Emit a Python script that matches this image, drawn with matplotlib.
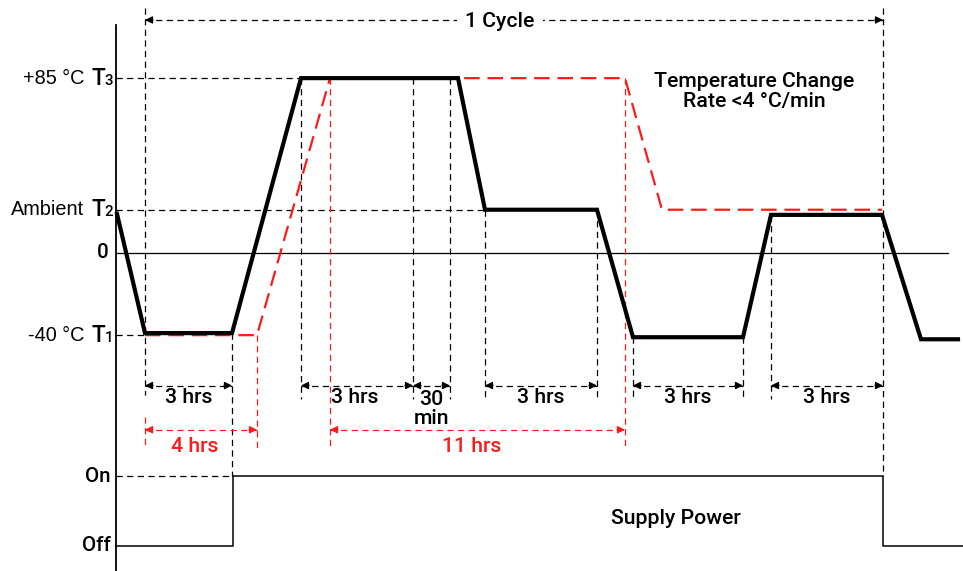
"""
Thermal cycling profile - schematic of one temperature cycle
with the supply power state underneath.
"""

import matplotlib.pyplot as plt

plt.rcParams["font.family"] = ["Liberation Sans", "DejaVu Sans"]

# --- data (schematic time positions, temperatures in degC) ---
T_HOT = 85
T_AMB = 21
T_COLD = -40

profile_t = [117, 145, 232, 301, 458, 485, 597, 633, 743, 771, 882, 921, 958]
profile_temp = [19, -39, -39, 85, 85, 21, 21, -41, -41, 18.5, 18.5, -42, -42]

slow_t = [145, 257, 330, 625, 662, 882]
slow_temp = [-40, -40, 85, 85, 21, 21]

power_t = [116, 233, 233, 883, 883, 963]
power_state = [0, 0, 1, 1, 0, 0]

cycle_start, cycle_end = 145, 883

# dwell annotations: (start, end, label)
dwell_black = [(145, 232, "3 hrs"), (301, 413, "3 hrs"), (413, 450, "30\nmin"),
               (485, 597, "3 hrs"), (633, 743, "3 hrs"), (771, 883, "3 hrs")]
dwell_red = [(145, 257, "4 hrs"), (330, 625, "11 hrs")]

# --- layout constants ---
Y_ON, Y_OFF = -108.5, -142.5
Y_ARROW, Y_ARROW_RED = -64.5, -86
RED = "#ff1a1a"
FS = 15.3
MED = dict(family=["Roboto", "DejaVu Sans"], fontweight="medium")

fig = plt.figure(figsize=(9.63, 5.71), dpi=100)
ax = fig.add_axes([0, 0, 1, 1])
ax.set_xlim(0, 963)
ax.set_ylim(-154.7, 123)
ax.axis("off")

thin_dash = dict(color="black", lw=0.9, linestyle=(0, (5, 3.5)))
red_dash = dict(color=RED, lw=0.9, linestyle=(0, (5, 3.5)))


def arrow_head(x_tip, x_from, y, color):
    ax.annotate("", xy=(x_tip, y), xytext=(x_from, y),
                arrowprops=dict(arrowstyle="-|>", color=color, lw=0.9,
                                mutation_scale=11, shrinkA=0, shrinkB=0))


def dim_arrow(x0, x1, y, color):
    ax.plot([x0, x1], [y, y], color=color, lw=0.9, linestyle=(0, (5, 3.5)))
    arrow_head(x0, x0 + 8, y, color)
    arrow_head(x1, x1 - 8, y, color)


# axis line and zero line
ax.plot([116, 116], [111, -155], color="black", lw=1.3)
ax.plot([116, 948], [0, 0], color="black", lw=0.9)

# horizontal guides
ax.plot([116, 301], [T_HOT, T_HOT], **thin_dash)
ax.plot([116, 485], [T_AMB, T_AMB], **thin_dash)
ax.plot([116, 145], [T_COLD, T_COLD], **thin_dash)
ax.plot([116, 232], [Y_ON, Y_ON], **thin_dash)

# vertical guides (black)
ax.plot([cycle_start, cycle_start], [119, -69], **thin_dash)
ax.plot([cycle_end, cycle_end], [119, Y_ON], **thin_dash)
ax.plot([232, 232], [-39, Y_ON], **thin_dash)
for x, top in [(301, T_HOT), (413, T_HOT), (450, T_HOT), (485, T_AMB),
               (597, T_AMB), (633, -41), (743, -41), (771, 18.5)]:
    ax.plot([x, x], [top, -71], **thin_dash)

# vertical guides (red)
ax.plot([cycle_start, cycle_start], [-80, -94.5], **red_dash)
ax.plot([257, 257], [T_COLD, -96.5], **red_dash)
ax.plot([330, 330], [T_HOT, -94.5], **red_dash)
ax.plot([625, 625], [T_HOT, -94.5], **red_dash)

# temperature profiles
ax.plot(slow_t, slow_temp, color=RED, lw=1.6, linestyle=(0, (7, 3.5)))
ax.plot(profile_t, profile_temp, color="black", lw=3, solid_joinstyle="miter")

# supply power
power_y = [Y_ON if s else Y_OFF for s in power_state]
ax.plot(power_t, power_y, color="black", lw=1.1)

# dwell arrows
for x0, x1, label in dwell_black:
    dim_arrow(x0, x1, Y_ARROW, "black")
    if label.startswith("30"):
        ax.text((x0 + x1) / 2, -76, label, ha="center", va="center",
                fontsize=FS, linespacing=1.0, **MED)
    else:
        xc = 355 if x0 == 301 else (x0 + x1) / 2
        ax.text(xc, -70.5, label, ha="center", va="center", fontsize=FS, **MED)

for x0, x1, label in dwell_red:
    dim_arrow(x0, x1, Y_ARROW_RED, RED)
    xc = 195 if x0 == 145 else 472
    ax.text(xc, -94, label, ha="center", va="center", fontsize=FS,
            color=RED, **MED)

# one-cycle arrow
dim_arrow(cycle_start, cycle_end, 113.3, "black")
ax.text(500, 112.5, "1 Cycle", ha="center", va="center", fontsize=FS,
        bbox=dict(fc="white", ec="none", pad=6), **MED)

# y labels
ylabels = [(T_HOT, "+85 °C", "3"), (T_AMB, "Ambient", "2"), (T_COLD, "-40 °C", "1")]
for y, lab, sub in ylabels:
    ax.text(84, y, lab, ha="right", va="center", fontsize=FS - 1)
    ax.text(105, y, "T", ha="right", va="center", fontsize=FS + 1, **MED)
    ax.text(104.5, y - 1.2, sub, ha="left", va="center", fontsize=FS - 4.5, **MED)
ax.text(109, 0, "0", ha="right", va="center", fontsize=FS - 0.5, **MED)
ax.text(111, Y_ON, "On", ha="right", va="center", fontsize=FS - 0.5, **MED)
ax.text(111, Y_OFF, "Off", ha="right", va="center", fontsize=FS - 0.5, **MED)

ax.text(754, 78.5, "Temperature Change\nRate <4 °C/min", ha="center",
        va="center", fontsize=FS, linespacing=1.1, **MED)
ax.text(676, -129, "Supply Power", ha="center", va="center", fontsize=FS, **MED)

fig.savefig("out.png", dpi=100)
plt.close(fig)
